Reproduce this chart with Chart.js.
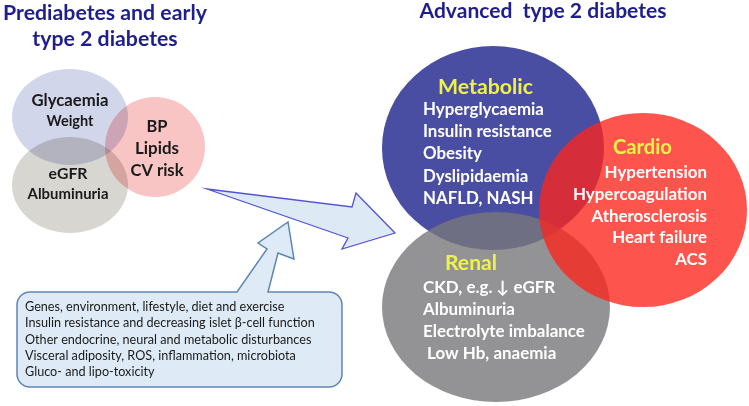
<!DOCTYPE html>
<html>
<head>
<meta charset="utf-8">
<script src="https://cdn.jsdelivr.net/npm/chart.js@4"></script>
<style>
  html, body { margin: 0; padding: 0; background: #fff; }
  #wrap { width: 749px; height: 406px; position: relative; }
</style>
</head>
<body>
<div id="wrap"><canvas id="diagram"></canvas></div>
<script>
// Texts of the diagram
const leftTitle = ['Prediabetes and early', 'type 2 diabetes'];
const rightTitle = ['Advanced  type 2 diabetes'];

const glycaemiaLines = ['Glycaemia', 'Weight'];
const kidneyEarlyLines = ['eGFR', 'Albuminuria'];
const cvEarlyLines = ['BP', 'Lipids', 'CV risk'];

const metabolicHead = 'Metabolic';
const metabolicLines = ['Hyperglycaemia', 'Insulin resistance', 'Obesity', 'Dyslipidaemia', 'NAFLD, NASH'];
const cardioHead = 'Cardio';
const cardioLines = ['Hypertension', 'Hypercoagulation', 'Atherosclerosis', 'Heart failure', 'ACS'];
const renalHead = 'Renal';
const renalLines = ['CKD, e.g. \u2193 eGFR', 'Albuminuria', 'Electrolyte imbalance', ' Low Hb, anaemia'];

const driverLines = [
  'Genes, environment, lifestyle, diet and exercise',
  'Insulin resistance and decreasing islet \u03B2-cell function',
  'Other endocrine, neural and metabolic disturbances',
  'Visceral adiposity, ROS, inflammation, microbiota',
  'Gluco- and lipo-toxicity'
];

// Layout (in scale units, 0..749 by 0..406, y down)
const FONT = 'Lato, "Open Sans", sans-serif';

const leftEllipses = [
  { cx: 70, cy: 117, rx: 58, ry: 48, fill: '#d2d6ea' },
  { cx: 70, cy: 185, rx: 58, ry: 48, fill: '#d8d6d0' },
  { cx: 155, cy: 147, rx: 50, ry: 50, fill: '#f9c4c4' }
];
const rightEllipses = [
  { cx: 493, cy: 148, rx: 111, ry: 102, fill: '#4a4ea3' },
  { cx: 496, cy: 307, rx: 114, ry: 95, fill: 'rgba(120,120,122,0.8)' },
  { cx: 643, cy: 210, rx: 104, ry: 97, fill: 'rgba(252,37,28,0.78)' }
];

const bigArrow = [[207, 189], [352, 207], [356, 193], [395, 233], [342, 249], [348, 238]];
const callout = { x0: 17, y0: 292, x1: 342, y1: 387, r: 13,
  stem: [[237, 292], [267, 249], [258, 243], [288, 222], [294, 259], [278, 253], [268, 292]] };

// refW: width to fit the ref line to; lineW: width for every line on its own
const textGroups = [
  { lines: leftTitle, x: 105, y: 20, dy: 26, align: 'center', weight: 'bold', color: '#1e1e8c', ref: 0, refW: 204 },
  { lines: rightTitle, x: 543, y: 18, dy: 0, align: 'center', weight: 'bold', color: '#1e1e8c', ref: 0, refW: 247 },
  { lines: glycaemiaLines, x: 70, y: 106, dy: 20, align: 'center', weight: 'bold', color: '#1a1a1a', lineW: [77, 47] },
  { lines: kidneyEarlyLines, x: 68, y: 179, dy: 20, align: 'center', weight: 'bold', color: '#1a1a1a', lineW: [39, 81] },
  { lines: cvEarlyLines, x: 157, y: 132, dy: 22, align: 'center', weight: 'bold', color: '#1a1a1a', lineW: [21, 44, 53] },
  { lines: [metabolicHead], x: 438, y: 94, dy: 0, align: 'left', weight: 'bold', color: '#eef24a', ref: 0, refW: 95 },
  { lines: metabolicLines, x: 423, y: 115, dy: 22.2, align: 'left', weight: 'bold', color: '#ffffff', ref: 1, refW: 129 },
  { lines: [cardioHead], x: 613, y: 154, dy: 0, align: 'left', weight: 'bold', color: '#eef24a', ref: 0, refW: 59 },
  { lines: cardioLines, x: 707, y: 178, dy: 21.8, align: 'right', weight: 'bold', color: '#ffffff', ref: 1, refW: 134 },
  { lines: [renalHead], x: 445, y: 270, dy: 0, align: 'left', weight: 'bold', color: '#eef24a', ref: 0, refW: 52 },
  { lines: renalLines, x: 423, y: 293, dy: 22, align: 'left', weight: 'bold', color: '#ffffff', ref: 2, refW: 162 },
  { lines: driverLines, x: 25, y: 311, dy: 16.3, align: 'left', weight: 'normal', color: '#1a1a1a', ref: 1, refW: 290 }
];

function fitSize(ctx, text, weight, width) {
  ctx.font = weight + ' 100px ' + FONT;
  return 100 * width / ctx.measureText(text).width;
}

const diagramPlugin = {
  id: 'diagram',
  afterDatasetsDraw(chart) {
    const ctx = chart.ctx;
    const sx = chart.scales.x, sy = chart.scales.y;
    const px = (v) => sx.getPixelForValue(v);
    const py = (v) => sy.getPixelForValue(v);
    const dxs = (v) => Math.abs(px(v) - px(0));
    const dys = (v) => Math.abs(py(v) - py(0));

    function ellipse(e) {
      ctx.beginPath();
      ctx.ellipse(px(e.cx), py(e.cy), dxs(e.rx), dys(e.ry), 0, 0, Math.PI * 2);
      ctx.fillStyle = e.fill;
      ctx.fill();
    }

    ctx.save();

    // early stage circles, blended like overlapping transparencies
    ctx.globalCompositeOperation = 'multiply';
    leftEllipses.forEach(ellipse);
    ctx.globalCompositeOperation = 'source-over';

    // big arrow
    ctx.beginPath();
    bigArrow.forEach((p, i) => (i ? ctx.lineTo(px(p[0]), py(p[1])) : ctx.moveTo(px(p[0]), py(p[1]))));
    ctx.closePath();
    ctx.fillStyle = '#dde9f5';
    ctx.fill();
    ctx.lineWidth = 1.3;
    ctx.strokeStyle = '#5252d6';
    ctx.lineJoin = 'miter';
    ctx.stroke();

    // callout box with its stem
    const c = callout;
    const x0 = px(c.x0), x1 = px(c.x1), y0 = py(c.y0), y1 = py(c.y1), r = c.r;
    ctx.beginPath();
    ctx.moveTo(x0 + r, y0);
    c.stem.forEach((p) => ctx.lineTo(px(p[0]), py(p[1])));
    ctx.lineTo(x1 - r, y0);
    ctx.arcTo(x1, y0, x1, y0 + r, r);
    ctx.lineTo(x1, y1 - r);
    ctx.arcTo(x1, y1, x1 - r, y1, r);
    ctx.lineTo(x0 + r, y1);
    ctx.arcTo(x0, y1, x0, y1 - r, r);
    ctx.lineTo(x0, y0 + r);
    ctx.arcTo(x0, y0, x0 + r, y0, r);
    ctx.closePath();
    ctx.fillStyle = '#deebf6';
    ctx.fill();
    ctx.lineWidth = 1.5;
    ctx.strokeStyle = '#5d86b4';
    ctx.stroke();

    // advanced stage circles
    rightEllipses.forEach(ellipse);

    // texts
    textGroups.forEach((g) => {
      ctx.fillStyle = g.color;
      ctx.textAlign = g.align;
      ctx.textBaseline = 'alphabetic';
      const groupSize = g.lineW ? 0 : fitSize(ctx, g.lines[g.ref], g.weight, g.refW);
      g.lines.forEach((t, i) => {
        const size = g.lineW ? fitSize(ctx, t, g.weight, g.lineW[i]) : groupSize;
        ctx.font = g.weight + ' ' + size.toFixed(2) + 'px ' + FONT;
        ctx.fillText(t, px(g.x), py(g.y + i * g.dy));
      });
    });

    ctx.restore();
  }
};

new Chart(document.getElementById('diagram').getContext('2d'), {
  type: 'scatter',
  data: { datasets: [{ data: [], pointRadius: 0 }] },
  options: {
    responsive: true,
    maintainAspectRatio: false,
    animation: false,
    events: [],
    layout: { padding: 0 },
    plugins: { legend: { display: false }, tooltip: { enabled: false } },
    scales: {
      x: { type: 'linear', min: 0, max: 749, display: false },
      y: { type: 'linear', min: 0, max: 406, reverse: true, display: false }
    }
  },
  plugins: [diagramPlugin]
});
</script>
</body>
</html>
